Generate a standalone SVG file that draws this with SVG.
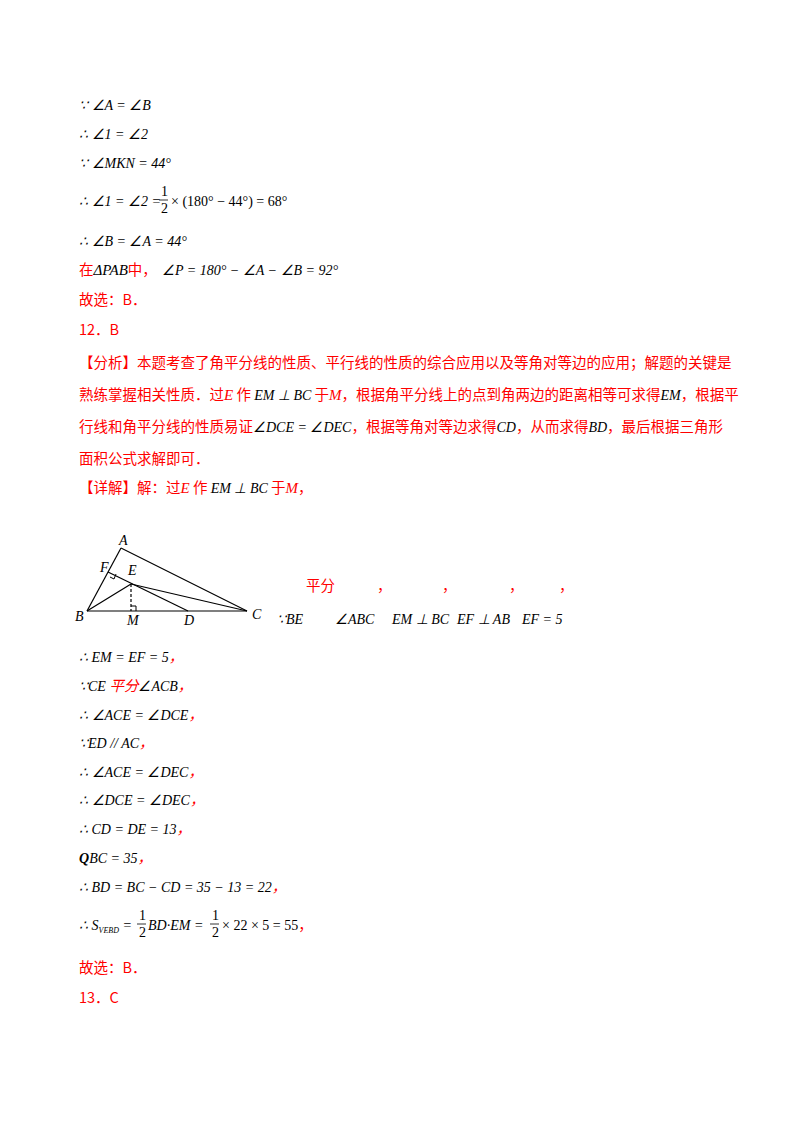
<svg xmlns="http://www.w3.org/2000/svg" width="800" height="1132" viewBox="0 0 800 1132">
<style>
.m{font-family:"Liberation Serif",serif;font-style:italic;font-size:14px;fill:#000}
.n{font-family:"Liberation Serif",serif;font-size:14px;fill:#000}
.r{font-family:"Noto Sans CJK SC",sans-serif;font-size:14.5px;fill:#ff0000}
.rm{font-family:"Liberation Serif",serif;font-style:italic;font-size:15px;fill:#ff0000}
line{stroke:#000;stroke-width:1.2}
</style>
<rect width="800" height="1132" fill="#fff"/>
<text x="79" y="110" class="m">∵ ∠A = ∠B</text>
<text x="79" y="139" class="m">∴ ∠1 = ∠2</text>
<text x="79" y="168" class="m">∵ ∠MKN = 44°</text>
<text x="79" y="206" class="m">∴ ∠1 = ∠2 =</text>
<text x="161" y="196" class="n" font-size="12">1</text>
<line x1="159" y1="200" x2="168" y2="200" style="stroke-width:0.8"/>
<text x="161" y="213" class="n" font-size="12">2</text>
<text x="171" y="206" class="n">× (180° − 44°) = 68°</text>
<text x="79" y="246" class="m">∴ ∠B = ∠A = 44°</text>
<text x="79" y="275" class="r">在<tspan class="rm" style="fill:#000">ΔPAB</tspan>中，</text>
<text x="162" y="275" class="m">∠P = 180° − ∠A − ∠B = 92°</text>
<text x="79" y="305" class="r">故选：B．</text>
<text x="79" y="335" class="r">12．B</text>
<text x="79" y="368" class="r">【分析】本题考查了角平分线的性质、平行线的性质的综合应用以及等角对等边的应用；解题的关键是</text>
<text x="79" y="400" class="r">熟练掌握相关性质．过<tspan class="rm">E</tspan> 作 <tspan class="m" font-size="11">EM ⊥ BC</tspan> 于<tspan class="rm">M</tspan>，根据角平分线上的点到角两边的距离相等可求得<tspan class="m" font-size="16">EM</tspan>，根据平</text>
<text x="79" y="432" class="r">行线和角平分线的性质易证<tspan class="m">∠DCE = ∠DEC</tspan>，根据等角对等边求得<tspan class="m" font-size="16">CD</tspan>，从而求得<tspan class="m">BD</tspan>，最后根据三角形</text>
<text x="79" y="464" class="r">面积公式求解即可．</text>
<text x="79" y="493" class="r">【详解】解：过<tspan class="rm">E</tspan> 作 <tspan class="m" font-size="11">EM ⊥ BC</tspan> 于<tspan class="rm">M</tspan>，</text>
<g id="figure">
<line x1="87" y1="611" x2="121" y2="548"/>
<line x1="121" y1="548" x2="247" y2="611"/>
<line x1="87" y1="611" x2="247" y2="611"/>
<line x1="108" y1="572" x2="188" y2="611"/>
<line x1="87" y1="611" x2="131" y2="584"/>
<line x1="131" y1="584" x2="247" y2="611"/>
<line x1="131" y1="584" x2="131" y2="611" style="stroke-dasharray:3,2"/>
<polyline points="131,606 136,606 136,611" fill="none" stroke="#000"/>
<polyline points="110,577 114,579 116,574" fill="none" stroke="#000"/>
<text x="119" y="545" class="m">A</text>
<text x="100" y="572" class="m">F</text>
<text x="128" y="575" class="m">E</text>
<text x="75" y="621" class="m">B</text>
<text x="127" y="625" class="m">M</text>
<text x="184" y="625" class="m">D</text>
<text x="252" y="619" class="m">C</text>
</g>
<text x="306" y="591" class="r">平分</text>
<text x="377" y="591" class="r">，</text>
<text x="442" y="591" class="r">，</text>
<text x="509" y="591" class="r">，</text>
<text x="559" y="591" class="r">，</text>
<text x="277" y="624" class="m" font-size="12">∵BE</text>
<text x="335" y="624" class="m">∠ABC</text>
<text x="392" y="624" class="m" font-size="12">EM ⊥ BC</text>
<text x="457" y="624" class="m">EF ⊥ AB</text>
<text x="522" y="624" class="m" font-size="12">EF = 5</text>
<text x="79" y="662" class="m">∴ EM = EF = 5<tspan class="r">，</tspan></text>
<text x="79" y="691" class="m">∵CE <tspan class="r">平分</tspan>∠ACB<tspan class="r">，</tspan></text>
<text x="79" y="720" class="m">∴ ∠ACE = ∠DCE<tspan class="r">，</tspan></text>
<text x="79" y="748" class="m">∵ED // AC<tspan class="r">，</tspan></text>
<text x="79" y="777" class="m">∴ ∠ACE = ∠DEC<tspan class="r">，</tspan></text>
<text x="79" y="805" class="m">∴ ∠DCE = ∠DEC<tspan class="r">，</tspan></text>
<text x="79" y="834" class="m">∴ CD = DE = 13<tspan class="r">，</tspan></text>
<text x="79" y="863" class="m"><tspan class="n" font-weight="bold">Q</tspan>BC = 35<tspan class="r">，</tspan></text>
<text x="79" y="892" class="m">∴ BD = BC − CD = 35 − 13 = 22<tspan class="r">，</tspan></text>
<text x="79" y="930" class="m">∴ S<tspan font-size="8" dy="3">VEBD</tspan><tspan dy="-3"> =</tspan></text>
<text x="139" y="920" class="n" font-size="12">1</text>
<line x1="137" y1="924" x2="146" y2="924" style="stroke-width:0.8"/>
<text x="139" y="937" class="n" font-size="12">2</text>
<text x="148" y="930" class="m">BD·EM =</text>
<text x="212" y="920" class="n" font-size="12">1</text>
<line x1="210" y1="924" x2="219" y2="924" style="stroke-width:0.8"/>
<text x="212" y="937" class="n" font-size="12">2</text>
<text x="222" y="930" class="n">× 22 × 5 = 55<tspan class="r">，</tspan></text>
<text x="79" y="973" class="r">故选：B．</text>
<text x="79" y="1003" class="r">13．C</text>
</svg>
